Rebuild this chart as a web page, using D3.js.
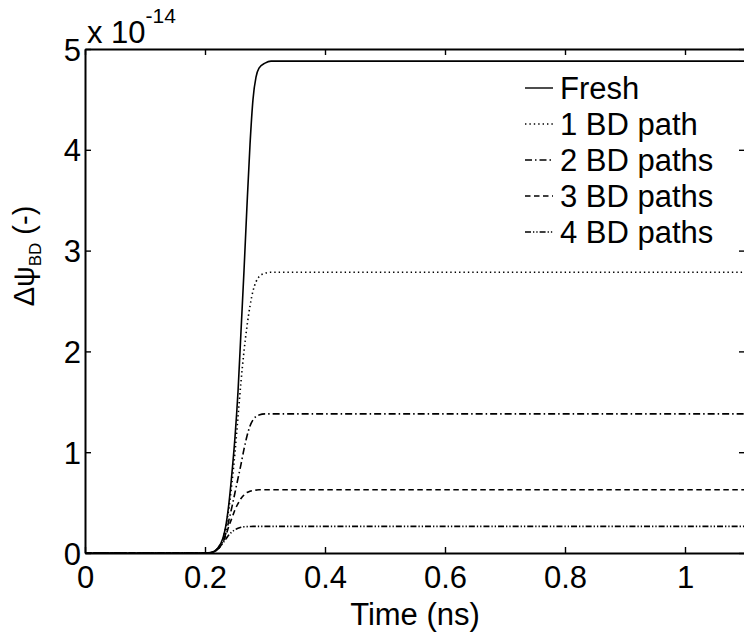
<!DOCTYPE html>
<html>
<head>
<meta charset="utf-8">
<script src="https://cdn.jsdelivr.net/npm/d3@7"></script>
<style>
  html, body { margin: 0; padding: 0; background: #fff; }
  svg { display: block; }
  text { font-family: "Liberation Sans", Arial, Helvetica, sans-serif; fill: #000; }
</style>
</head>
<body>
<script>
// Time samples (ns) shared by all series
const timeNs = [0, 0.2, 0.21, 0.22, 0.23, 0.235, 0.24, 0.245, 0.25, 0.255, 0.26, 0.265, 0.27, 0.275, 0.28, 0.285, 0.29, 0.3, 0.31, 0.32, 1.1];

// Δψ_BD in units of 1e-14
const fresh   = [0, 0, 0.005, 0.04, 0.15, 0.28, 0.5, 0.8, 1.15, 1.6, 2.2, 2.8, 3.45, 4.05, 4.5, 4.72, 4.81, 4.86, 4.88, 4.88, 4.88];
const bd1Path = [0, 0, 0.005, 0.04, 0.14, 0.27, 0.45, 0.7, 1.0, 1.35, 1.7, 2.0, 2.25, 2.45, 2.6, 2.69, 2.74, 2.775, 2.785, 2.785, 2.785];
const bd2Path = [0, 0, 0.005, 0.035, 0.12, 0.2, 0.33, 0.46, 0.6, 0.74, 0.88, 1.03, 1.16, 1.26, 1.32, 1.355, 1.37, 1.38, 1.38, 1.38, 1.38];
const bd3Path = [0, 0, 0.005, 0.03, 0.11, 0.18, 0.27, 0.35, 0.43, 0.49, 0.54, 0.575, 0.6, 0.613, 0.62, 0.624, 0.627, 0.627, 0.627, 0.627, 0.627];
const bd4Path = [0, 0, 0.005, 0.03, 0.1, 0.14, 0.18, 0.21, 0.23, 0.245, 0.255, 0.26, 0.262, 0.263, 0.264, 0.264, 0.264, 0.264, 0.264, 0.264, 0.264];

const seriesNames = ["Fresh", "1 BD path", "2 BD paths", "3 BD paths", "4 BD paths"];
const seriesValues = [fresh, bd1Path, bd2Path, bd3Path, bd4Path];
const seriesDash = ["none", "1.4,3", "7,3,1.5,3", "5.5,3.5", "6,2,1.3,2,1.3,2"];

const xTicks = [0, 0.2, 0.4, 0.6, 0.8, 1];
const yTicks = [0, 1, 2, 3, 4, 5];

const W = 744, H = 636;
const plotLeft = 85, plotRight = 745, plotTop = 49, plotBottom = 553;

const svg = d3.select("body").append("svg").attr("width", W).attr("height", H);

const x = d3.scaleLinear().domain([0, 1.1]).range([plotLeft, plotRight]);
const y = d3.scaleLinear().domain([0, 5]).range([plotBottom, plotTop]);

// Curves, clipped to the axes box
svg.append("clipPath").attr("id", "plotClip")
  .append("rect").attr("x", plotLeft).attr("y", plotTop)
  .attr("width", plotRight - plotLeft).attr("height", plotBottom - plotTop);

const line = d3.line()
  .x((d, i) => x(timeNs[i]))
  .y(d => y(d))
  .curve(d3.curveMonotoneX);

const curves = svg.append("g").attr("clip-path", "url(#plotClip)");
seriesValues.forEach((vals, k) => {
  curves.append("path")
    .attr("d", line(vals))
    .attr("fill", "none")
    .attr("stroke", "#000")
    .attr("stroke-width", 1.6)
    .attr("stroke-dasharray", seriesDash[k]);
});

// Axes (box with inward ticks on all four sides)
const tickLen = 6;
const fontSize = 31;

const gB = svg.append("g").attr("transform", `translate(0,${plotBottom})`)
  .call(d3.axisBottom(x).tickValues(xTicks).tickSizeInner(-tickLen).tickSizeOuter(0).tickPadding(13).tickFormat(d3.format("")));
const gT = svg.append("g").attr("transform", `translate(0,${plotTop})`)
  .call(d3.axisTop(x).tickValues(xTicks).tickSizeInner(-tickLen).tickSizeOuter(0).tickFormat(""));
const gL = svg.append("g").attr("transform", `translate(${plotLeft},0)`)
  .call(d3.axisLeft(y).tickValues(yTicks).tickSizeInner(-tickLen).tickSizeOuter(0).tickPadding(4).tickFormat(d3.format("")));
const gR = svg.append("g").attr("transform", `translate(${plotRight},0)`)
  .call(d3.axisRight(y).tickValues(yTicks).tickSizeInner(-tickLen).tickSizeOuter(0).tickFormat(""));

[gB, gT, gL, gR].forEach(g => {
  g.select(".domain").attr("stroke", "#000").attr("stroke-width", 2);
  g.selectAll(".tick line").attr("stroke", "#000").attr("stroke-width", 1.4);
  g.selectAll(".tick text")
    .style("font-family", '"Liberation Sans", Arial, sans-serif')
    .style("font-size", fontSize + "px")
    .attr("fill", "#000");
});
gB.selectAll(".tick text").attr("dy", "0.71em");
gL.selectAll(".tick text").attr("dy", "0.36em");

// Exponent marker above the y axis
const expo = svg.append("text")
  .attr("x", 87).attr("y", 43)
  .style("font-size", "31px");
expo.append("tspan").text("x 10");
expo.append("tspan").attr("dy", -20).style("font-size", "21px").text("-14");

// Axis titles
svg.append("text")
  .attr("x", (plotLeft + plotRight) / 2).attr("y", 625)
  .attr("text-anchor", "middle")
  .style("font-size", "31px")
  .text("Time (ns)");

const yl = svg.append("text")
  .attr("transform", "translate(34,256) rotate(-90)")
  .attr("text-anchor", "middle")
  .style("font-size", "29px");
yl.append("tspan").text("Δψ");
yl.append("tspan").attr("dy", 7).style("font-size", "17px").text("BD");
yl.append("tspan").attr("dy", -7).text(" (-)");

// Legend
const legend = svg.append("g");
seriesNames.forEach((name, k) => {
  const cy = 88 + k * 36;
  legend.append("line")
    .attr("x1", 525).attr("x2", 553)
    .attr("y1", cy).attr("y2", cy)
    .attr("stroke", "#000").attr("stroke-width", 1.4)
    .attr("stroke-dasharray", seriesDash[k]);
  legend.append("text")
    .attr("x", 560).attr("y", cy)
    .attr("dy", "0.36em")
    .style("font-size", "31px")
    .text(name);
});
</script>
</body>
</html>
